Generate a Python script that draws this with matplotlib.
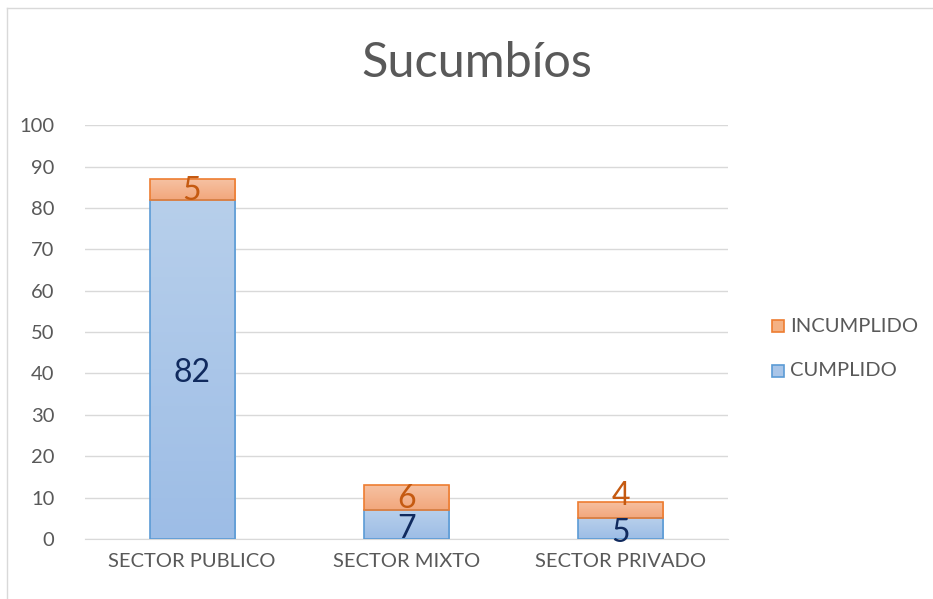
import numpy as np
import matplotlib.pyplot as plt
from matplotlib.patches import Rectangle
from matplotlib.lines import Line2D
from matplotlib.colors import LinearSegmentedColormap

plt.rcParams['font.family'] = ['Lato', 'DejaVu Sans']

# data
categories = ['SECTOR PUBLICO', 'SECTOR MIXTO', 'SECTOR PRIVADO']
cumplido = [82, 7, 5]
incumplido = [5, 6, 4]

fig = plt.figure(figsize=(9.33, 5.99), dpi=100)
ax = fig.add_axes([0.091, 0.1002, 0.689, 0.6908])

# chart border (only top and left are visible)
bx, by = 7.5 / 933, 1 - 7.5 / 599
fig.lines.append(Line2D([bx, 1.0], [by, by], transform=fig.transFigure, color='#d9d9d9', lw=1.0))
fig.lines.append(Line2D([bx, bx], [0, by], transform=fig.transFigure, color='#d9d9d9', lw=1.0))

x = np.arange(len(categories))
w = 0.397

blue_cm = LinearSegmentedColormap.from_list('b', ['#9dbde6', '#b7cfeb'])
orng_cm = LinearSegmentedColormap.from_list('o', ['#f2a77c', '#f6c1a2'])

def grad_bars(xs, heights, bottoms, cmap, edge):
    bars = ax.bar(xs, heights, w, bottom=bottoms, facecolor='none', edgecolor=edge, lw=1.2, zorder=3)
    for b in bars:
        x0, y0 = b.get_x(), b.get_y()
        im = ax.imshow(np.linspace(0, 1, 100).reshape(-1, 1), cmap=cmap, aspect='auto',
                       extent=(x0, x0 + b.get_width(), y0, y0 + b.get_height()),
                       origin='lower', zorder=2)
        im.set_clip_path(b)
    return bars

grad_bars(x, cumplido, 0, blue_cm, '#5b9bd5')
grad_bars(x, incumplido, cumplido, orng_cm, '#ed7d31')

ax.set_xlim(-0.5, 2.5)
ax.set_ylim(0, 100)
ax.set_yticks(range(0, 101, 10))
ax.set_xticks(x)
ax.set_xticklabels(categories)
ax.tick_params(length=0, labelsize=14.5, colors='#595959', pad=10)
ax.tick_params(axis='y', pad=22)
ax.grid(axis='y', color='#d9d9d9', lw=1.0, zorder=0)
for s in ['top', 'right', 'left']:
    ax.spines[s].set_visible(False)
ax.spines['bottom'].set_color('#d9d9d9')

# value labels
for i in range(len(categories)):
    ax.annotate(str(cumplido[i]), (x[i], cumplido[i] / 2), xytext=(0, -3),
                textcoords='offset points', ha='center', va='center',
                fontsize=23, color='#102a5e', zorder=5)
    off = 10 if i == 2 else -1
    ax.annotate(str(incumplido[i]), (x[i], cumplido[i] + incumplido[i] / 2),
                xytext=(0, off), textcoords='offset points', ha='center', va='center',
                fontsize=23, color='#c55a11', zorder=5)

fig.text(0.511, 0.894, 'Sucumbíos', ha='center', va='center', fontsize=35, color='#595959')

# legend
lx = 772 / 933
for yy, lab, fc, ec in [(326, 'INCUMPLIDO', '#f4b183', '#ed7d31'), (371, 'CUMPLIDO', '#a9c5e8', '#5b9bd5')]:
    fig.patches.append(Rectangle((lx, 1 - (yy + 6) / 599), 12/933, 12/599, transform=fig.transFigure,
                                 facecolor=fc, edgecolor=ec, lw=1.2))
    fig.text(790/933, 1 - yy/599, lab, ha='left', va='center', fontsize=14.5, color='#595959')

fig.savefig('out.png', dpi=100)
